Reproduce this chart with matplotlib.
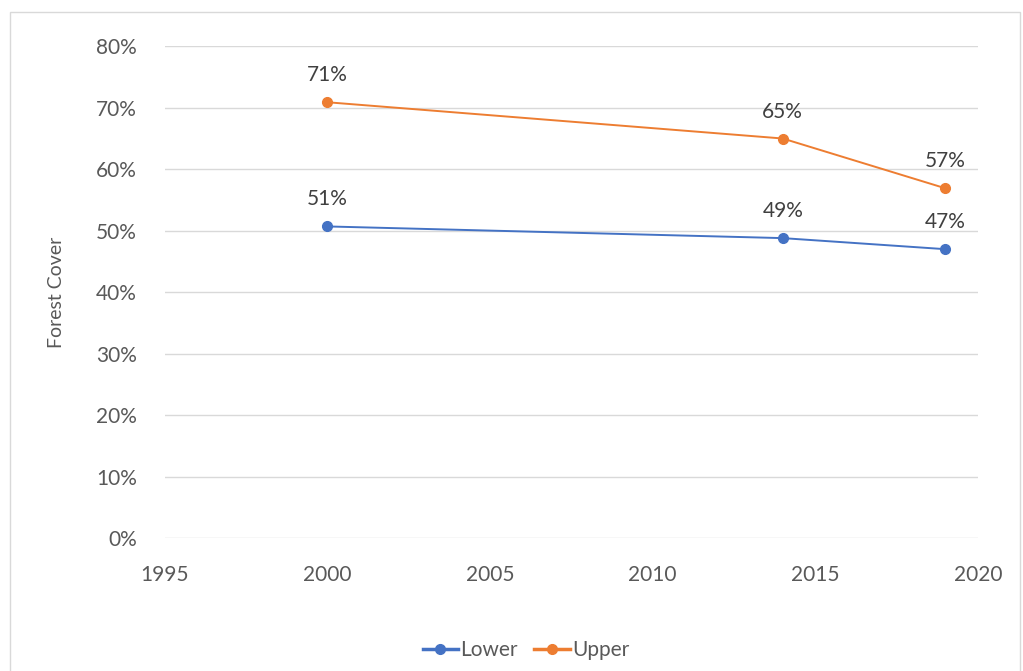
import matplotlib.pyplot as plt
from matplotlib.patches import Rectangle
from matplotlib.ticker import FuncFormatter

plt.rcParams['font.family'] = ['Lato', 'DejaVu Sans']

years = [2000, 2014, 2019]
lower = [0.507, 0.488, 0.470]
upper = [0.709, 0.650, 0.569]
lower_labels = ["51%", "49%", "47%"]
upper_labels = ["71%", "65%", "57%"]

blue = "#4472C4"
orange = "#ED7D31"
grey_txt = "#595959"

fig = plt.figure(figsize=(10.23, 6.71), dpi=100)
ax = fig.add_axes([0.161, 0.198, 0.795, 0.733])

# chart frame (open at the bottom, as in the cropped reference)
fig.patches.append(Rectangle((10 / 1023, -0.01), 1010 / 1023, 1 - 12 / 671 + 0.01,
                             transform=fig.transFigure, fill=False,
                             edgecolor="#D9D9D9", linewidth=1))

ax.plot(years, lower, color=blue, linewidth=1.4, marker='o', markersize=7, label="Lower", zorder=3)
ax.plot(years, upper, color=orange, linewidth=1.4, marker='o', markersize=7, label="Upper", zorder=3)

for x, y, t in zip(years, lower, lower_labels):
    ax.annotate(t, (x, y), xytext=(0, 27), textcoords="offset pixels",
                ha="center", va="center", fontsize=15, color="#404040")
for x, y, t in zip(years, upper, upper_labels):
    ax.annotate(t, (x, y), xytext=(0, 27), textcoords="offset pixels",
                ha="center", va="center", fontsize=15, color="#404040")

ax.set_xlim(1995, 2020)
ax.set_ylim(0, 0.8)
ax.set_xticks(range(1995, 2021, 5))
ax.set_yticks([i / 10 for i in range(9)])
ax.yaxis.set_major_formatter(FuncFormatter(lambda v, p: "%d%%" % round(v * 100)))
ax.tick_params(length=0, labelsize=15, labelcolor=grey_txt)
ax.tick_params(axis='x', pad=19)
ax.tick_params(axis='y', pad=20)
ax.grid(axis='y', color="#D9D9D9", linewidth=1)
ax.set_axisbelow(True)
for s in ax.spines.values():
    s.set_visible(False)

ax.set_ylabel("Forest Cover", fontsize=14, color=grey_txt, labelpad=22)

# legend sits centred on the whole chart frame, not on the plot area
leg = ax.legend(loc="center", bbox_to_anchor=(0.444, -0.228), ncol=2, frameon=False,
                fontsize=15, labelcolor=grey_txt, handlelength=1.7, handletextpad=0.1,
                columnspacing=0.8)
for h in leg.legend_handles:
    h.set_linewidth(2.5)

fig.savefig("out.png", dpi=100)
